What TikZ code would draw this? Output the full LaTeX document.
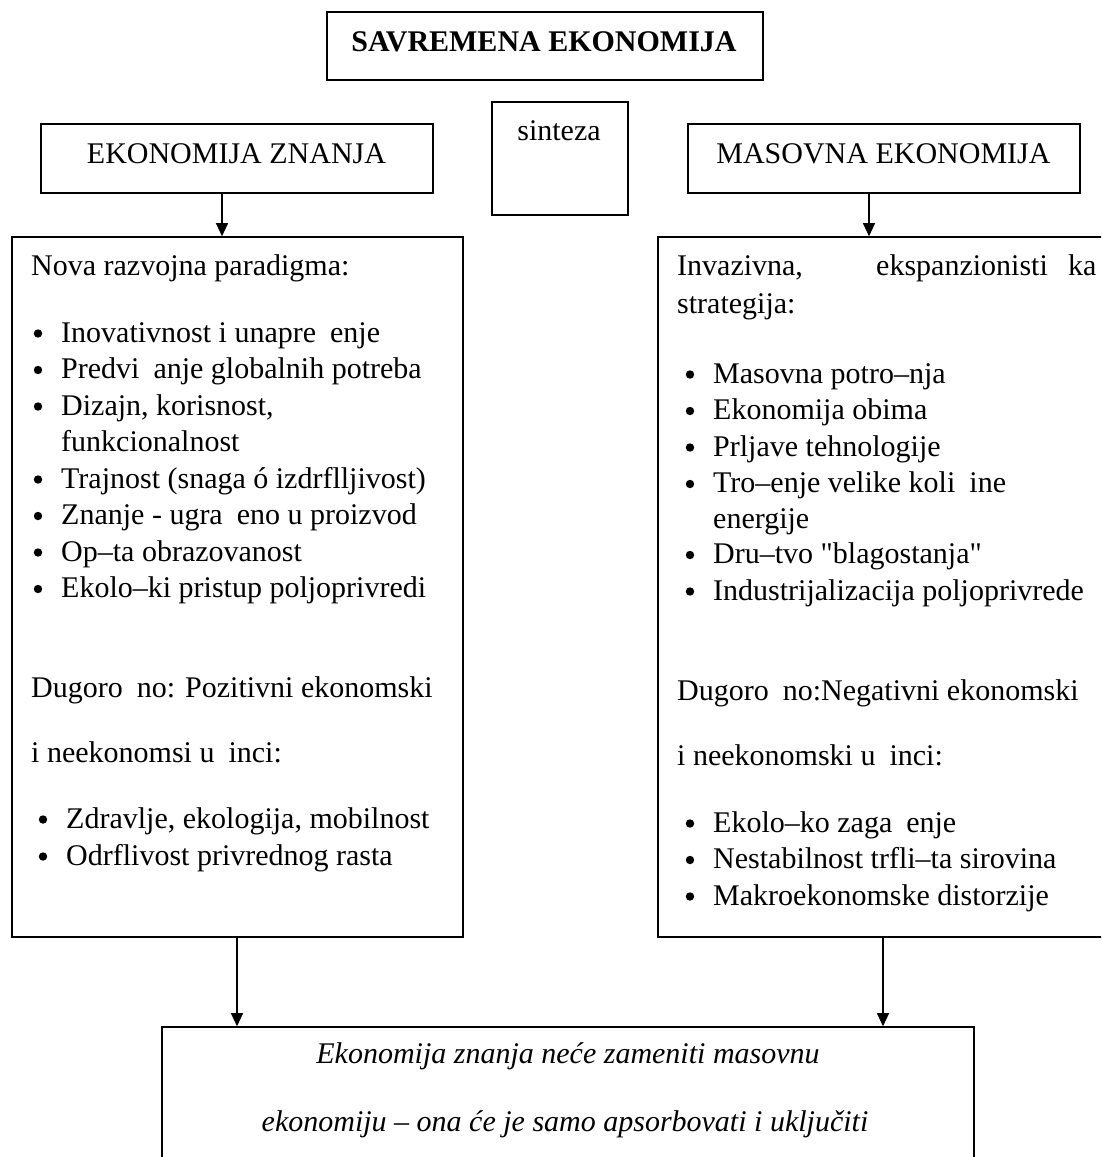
\documentclass[tikz,border=0pt]{standalone}
\usepackage{fontspec}
\setmainfont{Liberation Serif}
\newfontfamily\plainserif{Liberation Serif}
\usetikzlibrary{arrows.meta}
\newcommand{\gp}{\hspace{14pt}}
\begin{document}
\begin{tikzpicture}[x=1pt,y=-1pt,
  boxnode/.style={draw, line width=1.6pt, inner sep=0pt},
  txt/.style={anchor=base west, inner sep=0pt, font=\fontsize{30}{36}\selectfont},
  ctxt/.style={anchor=base, inner sep=0pt, font=\fontsize{30}{36}\selectfont},
  arr/.style={-{Triangle[width=12pt,length=13pt]}, line width=1.2pt},
  bul/.style={fill=black}]
\useasboundingbox (0,0) rectangle (1101,1157);
\clip (0,0) rectangle (1101,1157);

% boxes
\node[boxnode, minimum width=436pt, minimum height=68pt] (top) at (545,46) {};
\node[boxnode, minimum width=136pt, minimum height=113pt] (sin) at (560,158.5) {};
\node[boxnode, minimum width=392pt, minimum height=69pt] (ez) at (237,158.5) {};
\node[boxnode, minimum width=392pt, minimum height=69pt] (me) at (884,158.5) {};
\node[boxnode, minimum width=451pt, minimum height=700pt] (lb) at (237.5,587) {};
\node[boxnode, minimum width=446pt, minimum height=700pt] (rb) at (881,587) {};
\node[boxnode, minimum width=812pt, minimum height=143pt] (bb) at (568,1098.5) {};

% headings
\node[ctxt, font=\fontsize{30}{36}\selectfont\bfseries] (ttop) at (544,51) {SAVREMENA EKONOMIJA};
\node[ctxt] (tsin) at (559,140) {sinteza};
\node[ctxt] (tez) at (236.5,163) {EKONOMIJA ZNANJA};
\node[ctxt] (tme) at (883.5,163) {MASOVNA EKONOMIJA};

% connectors
\coordinate (c1) at (222,0);
\coordinate (c2) at (869,0);
\coordinate (c3) at (237,0);
\coordinate (c4) at (883,0);
\draw[arr] (ez.south -| c1) -- (lb.north -| c1);
\draw[arr] (me.south -| c2) -- (rb.north -| c2);
\draw[arr] (lb.south -| c3) -- (bb.north -| c3);
\draw[arr] (rb.south -| c4) -- (bb.north -| c4);

% left box text
\node[txt] (l0) at (31,275) {Nova razvojna paradigma:};
\foreach \yy/\tt/\nn in {
  342/{Inovativnost i unapre\gp enje}/l1,
  378.5/{Predvi\gp anje globalnih potreba}/l2,
  415/{Dizajn, korisnost,}/l3,
  488/{Trajnost (snaga ó izdrflljivost)}/l5,
  524.5/{Znanje - ugra\gp eno u proizvod}/l6,
  561/{Op–ta obrazovanost}/l7,
  597.5/{Ekolo–ki pristup poljoprivredi}/l8}{
  \fill[bul] (38,\yy-8.5) circle (4.2pt);
  \node[txt] (\nn) at (61,\yy) {\tt};
}
\node[txt] (l4) at (61,451.5) {funkcionalnost};
\node[txt] (l9) at (31,697) {Dugoro\gp no: Pozitivni ekonomski};
\node[txt] (l10) at (31,762) {i neekonomsi u\gp inci:};
\foreach \yy/\tt/\nn in {
  828/{Zdravlje, ekologija, mobilnost}/l11,
  865/{Odrflivost privrednog rasta}/l12}{
  \fill[bul] (43,\yy-8.5) circle (4.2pt);
  \node[txt] (\nn) at (66,\yy) {\tt};
}

% right box text
\node[txt] (r0a) at (677,275) {Invazivna,};
\node[txt] (r0b) at (876,275) {ekspanzionisti};
\node[txt] (r0c) at (1068,275) {ka};
\node[txt] (r0d) at (677,313) {strategija:};
\foreach \yy/\tt/\nn in {
  383/{Masovna potro–nja}/r1,
  419.5/{Ekonomija obima}/r2,
  456/{Prljave tehnologije}/r3,
  492.5/{Tro–enje velike koli\gp ine}/r4,
  563.5/{Dru–tvo {\plainserif"blagostanja"}}/r6,
  600/{Industrijalizacija poljoprivrede}/r7}{
  \fill[bul] (690,\yy-8.5) circle (4.2pt);
  \node[txt] (\nn) at (713,\yy) {\tt};
}
\node[txt] (r5) at (713,528) {energije};
\node[txt] (r8) at (677,700) {Dugoro\gp no:Negativni ekonomski};
\node[txt] (r9) at (677,765) {i neekonomski u\gp inci:};
\foreach \yy/\tt/\nn in {
  832/{Ekolo–ko zaga\gp enje}/r10,
  868.5/{Nestabilnost trfli–ta sirovina}/r11,
  905/{Makroekonomske distorzije}/r12}{
  \fill[bul] (690,\yy-8.5) circle (4.2pt);
  \node[txt] (\nn) at (713,\yy) {\tt};
}

% bottom box text
\node[ctxt, font=\fontsize{30}{36}\selectfont\itshape] (b1) at (568,1063) {Ekonomija znanja neće zameniti masovnu};
\node[ctxt, font=\fontsize{30}{36}\selectfont\itshape] (b2) at (565,1131) {ekonomiju – ona će je samo apsorbovati i uključiti};
\end{tikzpicture}
\end{document}
